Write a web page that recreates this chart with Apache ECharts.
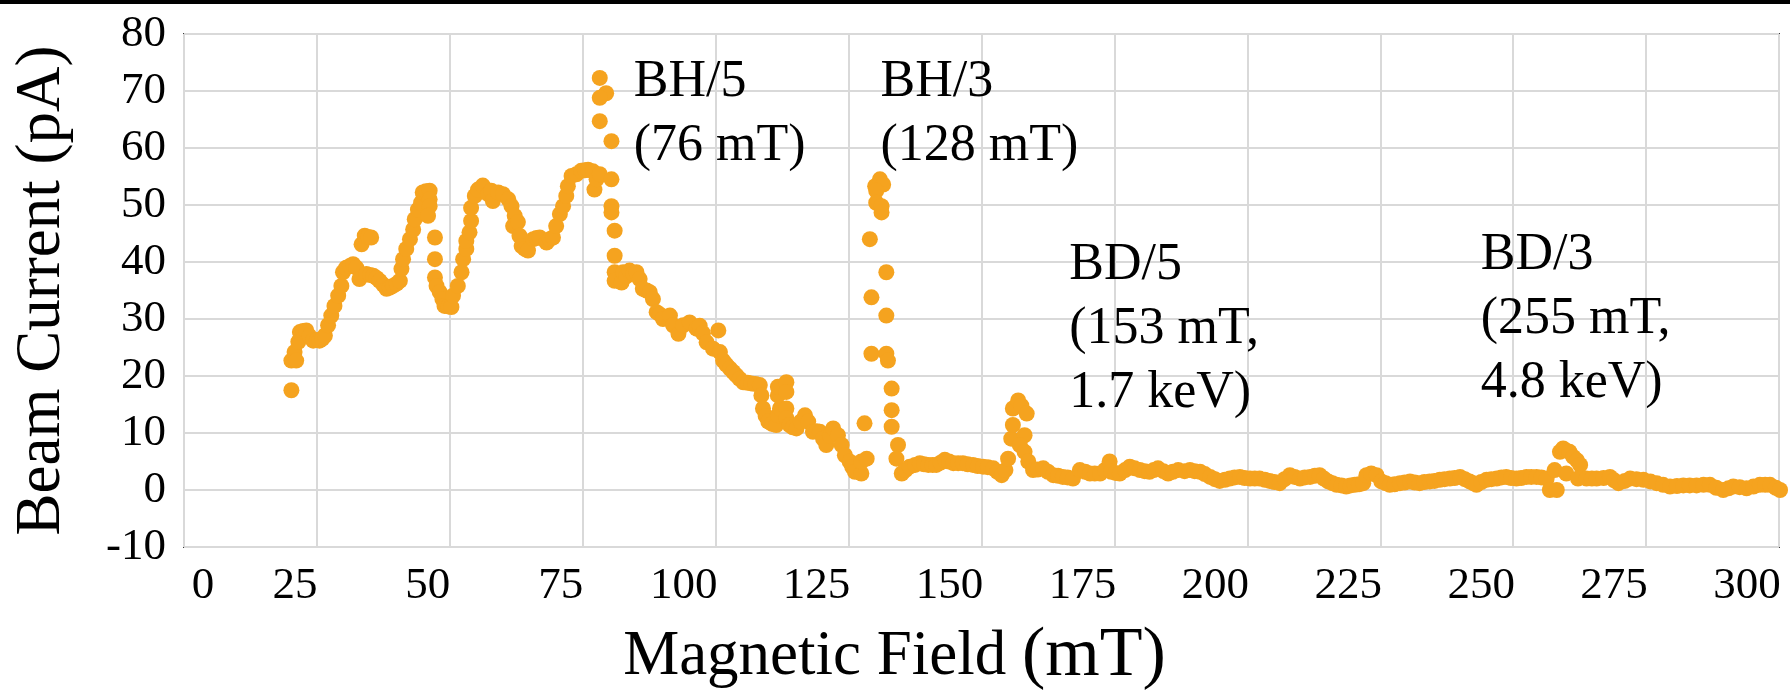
<!DOCTYPE html>
<html>
<head>
<meta charset="UTF-8">
<script src="https://cdn.jsdelivr.net/npm/echarts@6.0.0/dist/echarts.min.js"></script>
<style>
  html, body { margin: 0; padding: 0; background: #fff; }
  #main { width: 1790px; height: 697px; }
</style>
</head>
<body>
<div id="main"></div>
<script>
    // magnetic field (mT) and beam current (pA)
    var fieldMT = [
        20.2, 20.2, 20.8, 21.1, 21.5, 21.8, 22.4, 23.0, 23.6, 24.3, 25.0, 25.5, 26.0, 26.5, 27.1, 27.7, 28.3, 29.0, 29.6, 29.9,
        30.5, 31.2, 31.8, 32.4, 33.0, 33.4, 34.0, 34.6, 35.2, 34.3, 35.0, 35.6, 36.2, 36.8, 37.5, 38.1, 38.7, 39.3, 40.0, 40.6,
        40.9, 41.2, 41.8, 42.5, 43.1, 43.4, 44.0, 44.6, 44.9, 45.5, 46.2, 46.2, 46.2, 45.9, 47.2, 47.2, 47.2, 47.5, 48.1, 48.6,
        49.0, 49.7, 50.3, 50.6, 51.5, 52.2, 52.5, 53.1, 53.1, 53.7, 54.0, 54.0, 54.7, 55.3, 56.2, 57.2, 57.8, 58.1, 59.1, 60.0,
        61.0, 61.6, 62.2, 61.9, 62.8, 63.1, 63.5, 64.1, 64.7, 65.7, 66.3, 66.9, 68.2, 68.8, 69.4, 70.0, 70.7, 71.3, 71.9, 72.2,
        72.9, 73.8, 74.7, 75.4, 76.0, 76.9, 77.2, 77.6, 78.2, 78.2, 79.4, 78.2, 78.2, 80.4, 80.4, 80.4, 80.4, 81.0, 81.0, 81.0,
        81.0, 82.3, 82.6, 83.2, 83.8, 84.5, 85.1, 85.7, 86.3, 87.0, 87.6, 88.2, 88.9, 89.5, 90.1, 91.4, 92.0, 93.0, 93.9, 95.1,
        96.4, 97.0, 97.6, 98.3, 99.5, 100.5, 100.8, 101.4, 102.0, 102.7, 103.3, 103.9, 104.5, 105.2, 106.0, 106.7, 107.5, 108.3, 108.6, 108.9,
        109.4, 109.9, 110.6, 111.4, 111.7, 112.1, 111.7, 111.7, 113.3, 113.3, 113.3, 113.3, 113.9, 114.5, 115.2, 116.0, 116.8, 117.4, 118.3, 119.0,
        119.6, 120.2, 120.8, 121.5, 122.1, 123.0, 123.7, 124.3, 125.2, 125.7, 126.2, 127.4, 127.4, 128.4, 128.0, 129.0, 129.3, 129.3, 130.0, 130.9,
        131.5, 130.2, 130.2, 131.2, 131.2, 132.1, 132.1, 132.1, 132.4, 133.1, 133.1, 133.1, 134.3, 134.0, 135.0, 135.7, 136.5, 137.5, 138.4, 139.2,
        140.0, 140.8, 141.5, 142.3, 143.1, 143.9, 144.7, 145.6, 146.5, 147.4, 148.4, 149.3, 150.3, 151.2, 152.2, 153.0, 153.8, 154.5, 155.0, 155.6,
        155.9, 155.9, 156.9, 157.5, 158.5, 158.1, 157.2, 158.1, 158.8, 159.7, 160.6, 161.6, 162.5, 163.5, 164.4, 165.3, 166.2, 167.2, 168.5, 169.5,
        170.4, 171.3, 172.3, 173.2, 174.1, 174.4, 175.2, 176.0, 177.0, 177.9, 178.8, 179.8, 180.7, 181.6, 182.4, 183.2, 184.2, 185.1, 186.0, 187.0,
        188.2, 189.2, 190.1, 191.1, 192.0, 193.0, 193.9, 194.8, 195.8, 196.7, 197.6, 198.6, 199.5, 200.5, 201.4, 202.3, 203.3, 204.2, 205.1, 206.1,
        207.0, 208.0, 208.9, 209.9, 210.8, 211.8, 212.7, 213.6, 214.4, 215.2, 216.0, 216.8, 217.7, 218.6, 219.4, 220.2, 221.0, 221.8, 222.4, 223.3,
        224.3, 225.2, 226.0, 226.8, 227.7, 228.7, 229.6, 230.6, 231.5, 232.4, 233.3, 234.3, 235.2, 236.2, 237.1, 238.1, 239.0, 240.0, 240.9, 241.8,
        242.5, 243.1, 244.0, 245.0, 245.9, 246.9, 247.8, 248.7, 249.6, 250.6, 251.5, 252.5, 253.4, 254.4, 255.3, 256.3, 256.9, 258.2, 257.8, 258.8,
        259.4, 260.0, 260.0, 260.6, 261.3, 262.0, 262.6, 262.2, 263.8, 264.8, 265.7, 267.0, 268.2, 269.0, 269.8, 271.0, 272.0, 273.2, 274.5, 275.8,
        277.0, 278.2, 279.5, 280.8, 282.0, 283.2, 284.5, 285.8, 287.0, 288.2, 289.5, 290.5, 291.4, 292.6, 293.9, 295.2, 296.4, 297.4, 298.3, 299.4,
        300.2
    ];
    var currentPA = [
        17.5, 22.7, 24.2, 22.7, 26.0, 27.7, 27.9, 28.0, 27.0, 26.2, 26.3, 26.2, 26.5, 27.1, 28.9, 30.6, 32.3, 34.1, 35.8, 38.2,
        39.0, 39.3, 39.6, 39.0, 37.0, 43.1, 44.6, 44.4, 44.3, 37.9, 37.7, 37.6, 37.2, 36.7, 36.0, 35.3, 35.5, 35.8, 36.2, 36.7,
        38.8, 40.5, 42.3, 44.0, 45.7, 47.5, 49.2, 50.4, 52.2, 52.4, 52.5, 51.0, 49.8, 48.1, 44.3, 40.5, 37.3, 35.8, 34.7, 33.5,
        32.3, 32.2, 32.1, 34.1, 35.8, 38.2, 40.5, 42.3, 43.7, 45.2, 47.2, 49.5, 51.6, 52.7, 53.4, 51.9, 52.5, 50.7, 52.2, 51.9,
        51.0, 49.8, 48.1, 46.3, 47.0, 44.6, 42.8, 42.3, 42.0, 44.0, 44.2, 44.3, 43.4, 44.0, 44.3, 46.3, 48.4, 49.8, 51.6, 53.3,
        55.1, 55.4, 56.0, 56.1, 56.2, 55.9, 52.7, 54.5, 55.4, 72.3, 69.6, 68.8, 64.7, 61.2, 54.5, 49.8, 48.7, 45.5, 41.1, 38.2,
        36.7, 36.4, 38.2, 37.5, 38.5, 38.0, 38.2, 37.0, 35.3, 35.0, 34.7, 33.5, 31.2, 30.8, 30.0, 30.6, 28.9, 27.4, 28.9, 29.4,
        28.3, 28.8, 27.5, 25.9, 24.8, 28.0, 24.2, 22.7, 22.0, 21.3, 20.7, 20.1, 19.5, 18.9, 18.8, 18.7, 18.6, 18.4, 16.6, 14.3,
        13.0, 12.0, 11.6, 11.4, 13.1, 14.3, 16.6, 18.1, 18.9, 17.2, 14.3, 12.6, 11.4, 11.0, 10.8, 12.0, 13.1, 12.0, 10.2, 10.3,
        10.2, 9.0, 7.9, 9.5, 10.8, 9.6, 7.9, 6.1, 5.0, 4.0, 3.2, 2.9, 5.0, 5.5, 11.7, 44.0, 23.9, 33.8, 53.3, 54.5,
        53.6, 52.5, 50.4, 49.8, 48.7, 38.2, 30.6, 23.9, 22.7, 17.8, 14.0, 11.1, 7.9, 5.5, 2.9, 3.5, 4.1, 4.4, 4.7, 4.5,
        4.4, 4.4, 4.4, 4.8, 5.3, 5.0, 4.7, 4.7, 4.7, 4.5, 4.4, 4.2, 4.1, 4.0, 3.8, 3.2, 2.6, 3.5, 5.5, 9.0,
        11.4, 14.3, 15.7, 14.8, 13.4, 9.6, 7.9, 6.7, 5.0, 3.5, 3.6, 3.8, 3.2, 2.6, 2.5, 2.3, 2.2, 2.0, 3.5, 3.2,
        2.9, 2.9, 2.9, 3.5, 5.0, 3.2, 3.0, 2.9, 3.5, 4.1, 3.8, 3.5, 3.3, 3.2, 3.5, 3.8, 3.3, 2.9, 3.2, 3.5,
        3.3, 3.5, 3.3, 3.2, 2.8, 2.3, 1.9, 1.6, 1.8, 2.0, 2.2, 2.3, 2.1, 2.0, 2.0, 2.0, 1.8, 1.6, 1.4, 1.2,
        1.9, 2.6, 2.3, 2.0, 2.2, 2.3, 2.5, 2.6, 2.0, 1.5, 1.2, 0.9, 0.8, 0.6, 0.8, 0.9, 1.0, 1.2, 2.6, 2.9,
        2.6, 1.5, 1.2, 0.9, 1.0, 1.2, 1.3, 1.5, 1.3, 1.2, 1.4, 1.5, 1.6, 1.8, 1.9, 2.0, 2.1, 2.3, 1.9, 1.5,
        1.2, 0.9, 1.4, 1.8, 1.9, 2.0, 2.2, 2.3, 2.1, 2.0, 2.1, 2.3, 2.3, 2.3, 2.2, 2.0, 0.0, 0.0, 3.5, 6.7,
        7.3, 2.9, 6.9, 6.7, 5.8, 5.2, 4.4, 2.0, 2.0, 2.0, 2.0, 2.1, 2.3, 1.7, 1.2, 1.6, 2.0, 1.9, 1.8, 1.5,
        1.2, 0.9, 0.6, 0.7, 0.8, 0.8, 0.8, 0.9, 0.9, 0.4, 0.0, 0.3, 0.6, 0.5, 0.3, 0.6, 0.9, 0.9, 0.9, 0.4,
        0.0
    ];
    var peakLabels = ['BH/5\n(76 mT)', 'BH/3\n(128 mT)', 'BD/5\n(153 mT,\n1.7 keV)', 'BD/3\n(255 mT,\n4.8 keV)'];

    var serif = '"Liberation Serif", "Times New Roman", serif';
    var points = fieldMT.map(function (x, i) { return [x, currentPA[i]]; });

    // x tick labels sit just left of their gridline, except the "0" which sits right of it
    function xTickText(v) {
        if (v === 0) return '{z|0}';
        return String(v).length > 2 ? '{r3|' + v + '}' : '{r2|' + v + '}';
    }
    function tickStyle(pad) {
        return { fontFamily: serif, fontSize: 45, color: '#000', padding: pad };
    }

    var chart = echarts.init(document.getElementById('main'));
    chart.setOption({
        animation: false,
        backgroundColor: '#fff',
        grid: {
            left: 184, right: 11, top: 34, bottom: 148,
            show: true, borderColor: '#3a3a3a', borderWidth: 2
        },
        xAxis: {
            type: 'value', min: 0, max: 300, interval: 25,
            axisLine: { show: false },
            axisTick: { show: false },
            splitLine: { lineStyle: { color: '#d9d9d9', width: 2 } },
            axisLabel: {
                fontFamily: serif, fontSize: 45, color: '#000', margin: 17,
                formatter: xTickText,
                rich: {
                    z: tickStyle([0, 0, 0, 38]),
                    r2: tickStyle([0, 44, 0, 0]),
                    r3: tickStyle([0, 64, 0, 0])
                }
            },
            name: '{a|Magnetic Field} {b|(mT)}',
            nameLocation: 'middle', nameGap: 75,
            nameTextStyle: {
                fontFamily: serif, fontSize: 63, color: '#000', padding: [0, 174, 0, 0],
                rich: {
                    a: { fontFamily: serif, fontSize: 63, color: '#000' },
                    b: { fontFamily: serif, fontSize: 70, color: '#000' }
                }
            }
        },
        yAxis: {
            type: 'value', min: -10, max: 80, interval: 10,
            axisLine: { show: false },
            axisTick: { show: false },
            splitLine: { lineStyle: { color: '#d9d9d9', width: 2 } },
            axisLabel: { fontFamily: serif, fontSize: 45, color: '#000', margin: 18 },
            name: 'Beam Current (pA)',
            nameLocation: 'middle', nameGap: 110,
            nameTextStyle: { fontFamily: serif, fontSize: 63, color: '#000' }
        },
        series: [{
            type: 'scatter',
            data: points,
            symbol: 'circle',
            symbolSize: 16,
            clip: false,
            itemStyle: { color: '#F5A31F', opacity: 1 }
        }]
    });

    // peak annotations, anchored in data coordinates (top-left of text)
    var anchors = [[84.6, 77.2], [131.0, 77.1], [166.5, 45.1], [243.9, 46.7]];
    var graphics = [{
        type: 'rect', left: 0, top: 0, z: 100,
        shape: { width: 1790, height: 4 },
        style: { fill: '#000' }
    }];
    peakLabels.forEach(function (txt, i) {
        var p = chart.convertToPixel({ gridIndex: 0 }, anchors[i]);
        graphics.push({
            type: 'text', x: p[0], y: p[1], z: 50,
            style: {
                text: txt, font: '52px ' + serif, lineHeight: 64,
                fill: '#000', verticalAlign: 'top', align: 'left'
            }
        });
    });
    chart.setOption({ graphic: graphics });
</script>
</body>
</html>
